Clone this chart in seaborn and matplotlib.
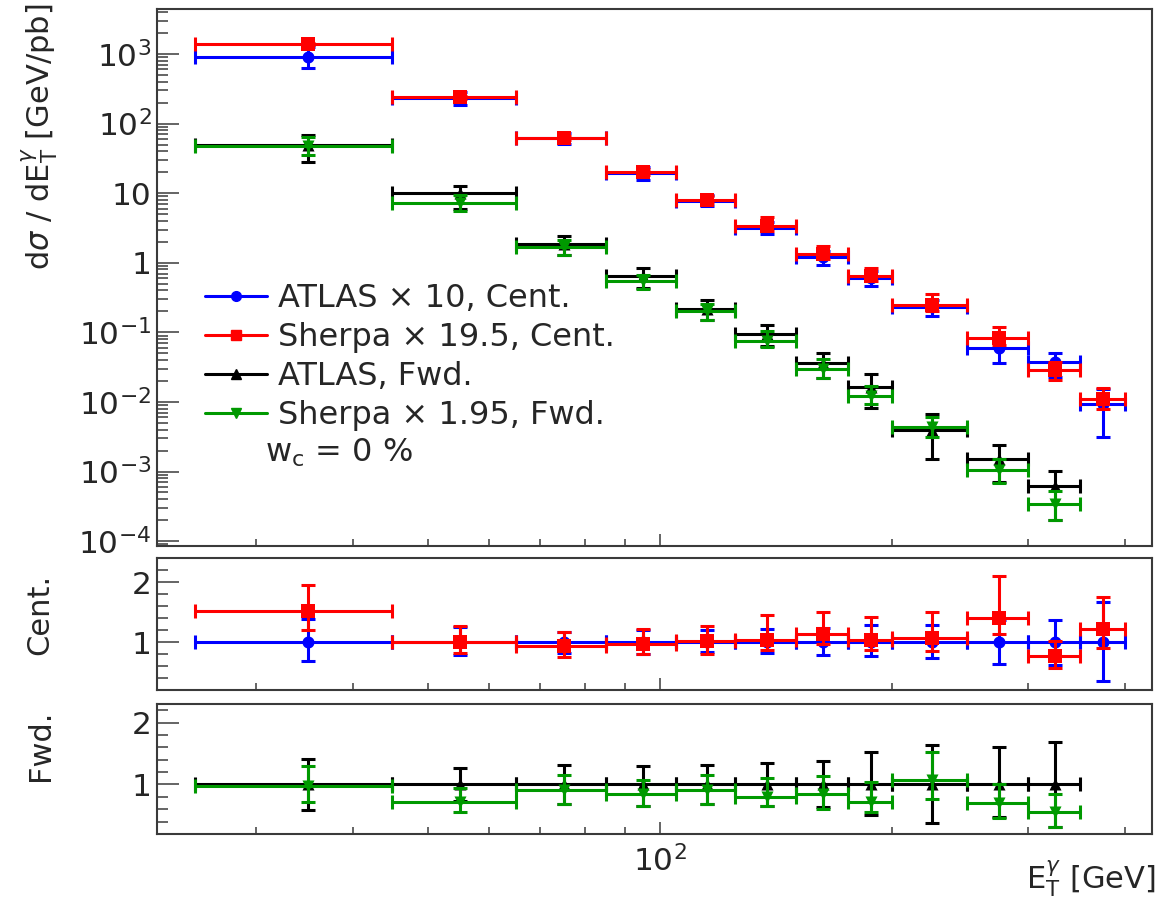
import numpy as np
import matplotlib
matplotlib.use("Agg")
import matplotlib.pyplot as plt
from matplotlib.lines import Line2D
from matplotlib.ticker import FixedLocator, FixedFormatter, NullFormatter, LogLocator, MultipleLocator, FuncFormatter
import seaborn as sns

# ---------------------------------------------------------------- data
bin_lo = [25, 45, 65, 85, 105, 125, 150, 175, 200, 250, 300, 350]
bin_hi = [45, 65, 85, 105, 125, 150, 175, 200, 250, 300, 350, 400]

# central region (ATLAS x 10, Sherpa x 19.5)
atlas_cent = [915, 230, 62, 19.5, 7.8, 3.2, 1.2, 0.60, 0.23, 0.060, 0.037, 0.0092]
atlas_cent_lo = [622, 182, 51, 15.6, 6.6, 2.6, 0.94, 0.46, 0.17, 0.036, 0.023, 0.0031]
atlas_cent_hi = [1260, 287, 73, 23.4, 9.4, 3.9, 1.49, 0.77, 0.29, 0.082, 0.050, 0.0154]

sherpa_cent = [1393, 239, 61.5, 20.0, 8.0, 3.4, 1.35, 0.64, 0.245, 0.083, 0.0285, 0.0111]
sherpa_cent_lo = [1330, 225, 58, 18.5, 7.2, 2.9, 1.15, 0.55, 0.20, 0.066, 0.0205, 0.0080]
sherpa_cent_hi = [1460, 252, 66, 22, 9.0, 4.5, 1.75, 0.85, 0.35, 0.12, 0.038, 0.0158]

# forward region (ATLAS, Sherpa x 1.95)
atlas_fwd = [49, 10.0, 1.85, 0.64, 0.22, 0.095, 0.036, 0.0165, 0.0040, 0.0015, 0.00061]
atlas_fwd_lo = [28, 6.0, 1.28, 0.43, 0.15, 0.063, 0.022, 0.0082, 0.0015, 0.0007, 0.0002]
atlas_fwd_hi = [69, 12.7, 2.44, 0.83, 0.29, 0.128, 0.050, 0.0250, 0.0066, 0.0024, 0.00102]

sherpa_fwd = [48, 7.2, 1.70, 0.54, 0.205, 0.076, 0.030, 0.0120, 0.0043, 0.00105, 0.00034]
sherpa_fwd_lo = [35, 5.6, 1.28, 0.42, 0.15, 0.062, 0.022, 0.0092, 0.0031, 0.00069, 0.0002]
sherpa_fwd_hi = [64, 9.4, 2.13, 0.67, 0.255, 0.105, 0.041, 0.0172, 0.0061, 0.0015, 0.00052]

# ratios to data
ratio_atlas_cent = [1.0] * 12
ratio_atlas_cent_lo = [0.68, 0.79, 0.82, 0.80, 0.84, 0.82, 0.78, 0.77, 0.74, 0.63, 0.62, 0.35]
ratio_atlas_cent_hi = [1.38, 1.25, 1.17, 1.20, 1.20, 1.22, 1.24, 1.28, 1.28, 1.37, 1.36, 1.67]
ratio_sherpa_cent = [1.52, 1.00, 0.93, 0.97, 1.02, 1.04, 1.14, 1.03, 1.07, 1.40, 0.77, 1.21]
ratio_sherpa_cent_lo = [1.20, 0.81, 0.75, 0.80, 0.80, 0.86, 0.96, 0.86, 0.85, 1.14, 0.57, 0.90]
ratio_sherpa_cent_hi = [1.95, 1.27, 1.17, 1.22, 1.27, 1.45, 1.50, 1.41, 1.50, 2.10, 1.02, 1.75]

ratio_atlas_fwd = [1.0] * 11
ratio_atlas_fwd_lo = [0.58, 0.73, 0.68, 0.66, 0.68, 0.66, 0.63, 0.50, 0.38, 0.47, 0.32]
ratio_atlas_fwd_hi = [1.41, 1.26, 1.32, 1.30, 1.32, 1.35, 1.38, 1.52, 1.64, 1.60, 1.68]
ratio_sherpa_fwd = [0.98, 0.72, 0.91, 0.85, 0.91, 0.80, 0.84, 0.72, 1.07, 0.70, 0.56]
ratio_sherpa_fwd_lo = [0.72, 0.56, 0.69, 0.66, 0.68, 0.65, 0.61, 0.56, 0.77, 0.46, 0.32]
ratio_sherpa_fwd_hi = [1.30, 0.94, 1.15, 1.08, 1.16, 1.10, 1.13, 1.04, 1.52, 1.00, 0.85]

labels = ["ATLAS \u00d7 10, Cent.", "Sherpa \u00d7 19.5, Cent.",
          "ATLAS, Fwd.", "Sherpa \u00d7 1.95, Fwd."]

# ---------------------------------------------------------------- style
sns.set_theme(style="ticks")
plt.rcParams["font.family"] = ["DejaVu Sans"]
plt.rcParams.update({
    "mathtext.fontset": "dejavusans",
    "axes.edgecolor": "#3a3a3a",
    "axes.linewidth": 1.5,
})

BLUE, RED, BLACK, GREEN = "#0000ff", "#ff0000", "#000000", "#009900"
W, H = 1158, 909
L, R = 157, 1152
TICK_FS = 22.5
LABEL_FS = 22
LEG_FS = 23

fig = plt.figure(figsize=(W / 100, H / 100), dpi=100)


def add_panel(top, bottom):
    return fig.add_axes([L / W, 1 - bottom / H, (R - L) / W, (bottom - top) / H])


ax_main = add_panel(9, 546)
ax_cent = add_panel(558, 690)
ax_fwd = add_panel(704, 834)

xlo = np.array(bin_lo, float)
xhi = np.array(bin_hi, float)
xc = 0.5 * (xlo + xhi)


def draw(ax, n, y, ylo, yhi, color, marker, size, z):
    x = xc[:n]
    y = np.asarray(y, float)
    ylo = np.asarray(ylo, float)
    yhi = np.asarray(yhi, float)
    ax.errorbar(x, y, xerr=[x - xlo[:n], xhi[:n] - x], yerr=[y - ylo, yhi - y],
                fmt="none", ecolor=color, elinewidth=2.2, capsize=4.7,
                capthick=2.2, zorder=z)
    sns.scatterplot(x=x, y=y, marker=marker, color=color, s=size,
                    linewidth=0, ax=ax, zorder=z + 0.5, legend=False)


for ax in (ax_main, ax_cent, ax_fwd):
    ax.set_xscale("log")
    ax.set_xlim(22.3, 434)

# main panel
ax_main.set_yscale("log")
ax_main.set_ylim(8.5e-5, 4430)
draw(ax_main, 12, atlas_cent, atlas_cent_lo, atlas_cent_hi, BLUE, "o", 75, 3)
draw(ax_main, 12, sherpa_cent, sherpa_cent_lo, sherpa_cent_hi, RED, "s", 100, 4)
draw(ax_main, 11, atlas_fwd, atlas_fwd_lo, atlas_fwd_hi, BLACK, "^", 75, 5)
draw(ax_main, 11, sherpa_fwd, sherpa_fwd_lo, sherpa_fwd_hi, GREEN, "v", 75, 6)

# ratio panels
draw(ax_cent, 12, ratio_atlas_cent, ratio_atlas_cent_lo, ratio_atlas_cent_hi, BLUE, "o", 75, 3)
draw(ax_cent, 12, ratio_sherpa_cent, ratio_sherpa_cent_lo, ratio_sherpa_cent_hi, RED, "s", 100, 4)
draw(ax_fwd, 11, ratio_atlas_fwd, ratio_atlas_fwd_lo, ratio_atlas_fwd_hi, BLACK, "^", 75, 5)
draw(ax_fwd, 11, ratio_sherpa_fwd, ratio_sherpa_fwd_lo, ratio_sherpa_fwd_hi, GREEN, "v", 75, 6)
ax_cent.set_ylim(0.2, 2.4)
ax_fwd.set_ylim(0.2, 2.3)

# ticks
for ax in (ax_main, ax_cent, ax_fwd):
    ax.set_xlabel("")
    ax.set_ylabel("")
    ax.xaxis.set_major_locator(FixedLocator([100]))
    ax.xaxis.set_minor_locator(FixedLocator([30, 40, 50, 60, 70, 80, 90, 200, 300, 400]))
    ax.xaxis.set_minor_formatter(NullFormatter())
    ax.tick_params(axis="x", which="major", direction="in", length=8.6, width=1.1,
                   color="#3a3a3a", labelsize=TICK_FS, pad=8)
    ax.tick_params(axis="x", which="minor", direction="in", length=5, width=1.1,
                   color="#3a3a3a")
    ax.tick_params(axis="y", which="major", direction="in", length=15.8, width=1.1,
                   color="#3a3a3a", labelsize=TICK_FS, pad=4)
    ax.tick_params(axis="y", which="minor", direction="in", length=8.2, width=1.1,
                   color="#3a3a3a")
    for s in ax.spines.values():
        s.set_visible(True)

ax_main.xaxis.set_major_formatter(NullFormatter())
ax_cent.xaxis.set_major_formatter(NullFormatter())
ax_fwd.xaxis.set_major_formatter(FixedFormatter([r"$10^{2}$"]))

ax_main.yaxis.set_major_locator(LogLocator(base=10, numticks=20))
ax_main.yaxis.set_minor_locator(LogLocator(base=10, subs=np.arange(2, 10), numticks=20))
ax_main.yaxis.set_minor_formatter(NullFormatter())


def dec_label(v, pos):
    e = int(round(np.log10(v)))
    if e == 0:
        return "1"
    if e == 1:
        return "10"
    return r"$10^{%d}$" % e


ax_main.yaxis.set_major_formatter(FuncFormatter(dec_label))

for ax in (ax_cent, ax_fwd):
    ax.yaxis.set_major_locator(FixedLocator([1, 2]))
    ax.yaxis.set_major_formatter(FixedFormatter(["1", "2"]))
    ax.yaxis.set_minor_locator(MultipleLocator(0.2))

# axis titles
fig.text(40 / W, 1 - 4 / H, r"d$\sigma$ / dE$_{\mathrm{T}}^{\gamma}$ [GeV/pb]",
         rotation=90, ha="center", va="top", fontsize=LABEL_FS)
fig.text(40 / W, 1 - 574 / H, "Cent.", rotation=90, ha="center", va="top", fontsize=LABEL_FS)
fig.text(40 / W, 1 - 710 / H, "Fwd.", rotation=90, ha="center", va="top", fontsize=LABEL_FS)
fig.text(1156 / W, 1 - 879 / H, r"E$_{\mathrm{T}}^{\gamma}$ [GeV]",
         ha="right", va="center", fontsize=LABEL_FS)

# legend
handles = [
    Line2D([], [], color=BLUE, lw=2.2, marker="o", markersize=7),
    Line2D([], [], color=RED, lw=2.2, marker="s", markersize=7),
    Line2D([], [], color=BLACK, lw=2.2, marker="^", markersize=7),
    Line2D([], [], color=GREEN, lw=2.2, marker="v", markersize=7),
]
leg = ax_main.legend(handles, labels, loc="upper left",
                     bbox_to_anchor=(205 / W, 1 - 283 / H),
                     bbox_transform=fig.transFigure, frameon=False,
                     fontsize=LEG_FS, handlelength=1.95, handletextpad=0.33,
                     labelspacing=0.25, borderpad=0, borderaxespad=0)
fig.text(265 / W, 1 - 453 / H, r"w$_{\mathrm{c}}$ = 0 %", ha="left", va="center",
         fontsize=LEG_FS)

fig.savefig("out.png", dpi=100)
